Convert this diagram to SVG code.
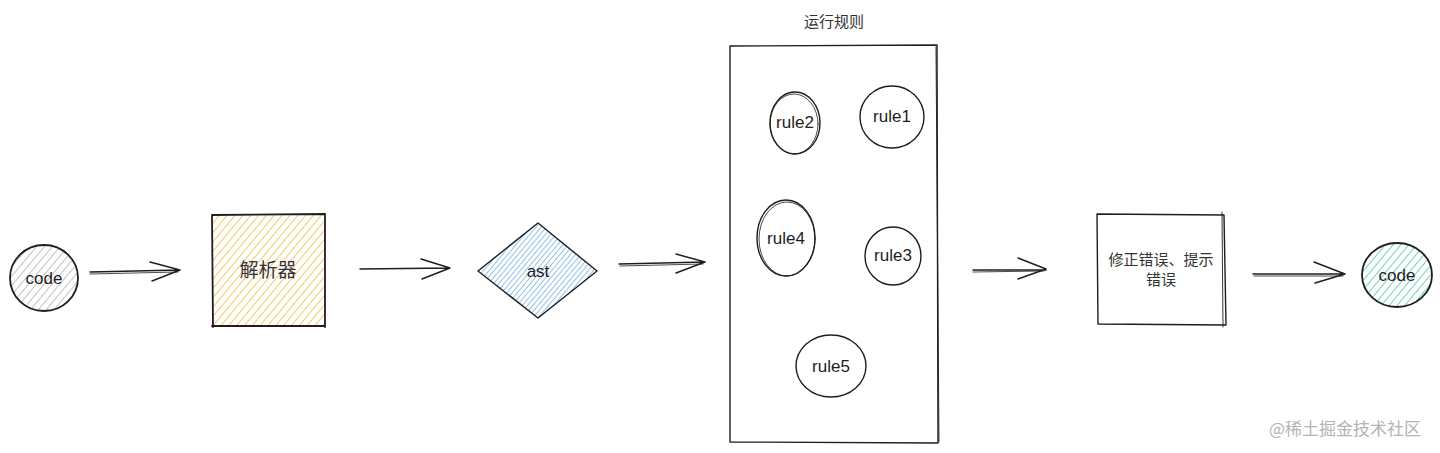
<svg xmlns="http://www.w3.org/2000/svg" width="1440" height="453" viewBox="0 0 1440 453">
<style>
.s{fill:none;stroke:#1e1e1e;stroke-width:1.4;stroke-linecap:round;stroke-linejoin:round}
.h{font-family:"Liberation Sans",sans-serif;fill:#1e1e1e;text-anchor:middle;font-size:17px}
.c{font-family:"Noto Sans CJK SC",sans-serif;fill:#333;text-anchor:middle}
</style>
<defs>
<pattern id="pg" width="6" height="6" patternUnits="userSpaceOnUse" patternTransform="rotate(40)"><line x1="0" y1="0" x2="0" y2="6" stroke="#adb5bd" stroke-width="1.6"/></pattern>
<pattern id="py" width="6" height="6" patternUnits="userSpaceOnUse" patternTransform="rotate(40)"><line x1="0" y1="0" x2="0" y2="6" stroke="#f2c04e" stroke-width="1.7"/></pattern>
<pattern id="pb" width="4" height="4" patternUnits="userSpaceOnUse" patternTransform="rotate(40)"><line x1="0" y1="0" x2="0" y2="4" stroke="#6aaee6" stroke-width="1.5"/></pattern>
<pattern id="pt" width="6" height="6" patternUnits="userSpaceOnUse" patternTransform="rotate(40)"><line x1="0" y1="0" x2="0" y2="6" stroke="#5fd0ab" stroke-width="1.8"/></pattern>
</defs>
<rect width="1440" height="453" fill="#ffffff"/>

<g id="code-in">
<ellipse cx="44" cy="278" rx="34" ry="33" fill="url(#pg)"/>
<ellipse class="s" cx="44" cy="278" rx="34" ry="33" style="stroke-width:1.8"/>
<text class="h" x="44" y="284">code</text>
</g>

<g id="parser">
<rect x="212" y="215" width="113" height="111" fill="url(#py)"/>
<path class="s" d="M212 215 L325 214 M325 214 L325 327 M212 326 L325 326 M212 215 L213 327" style="stroke-width:1.8"/>
<text class="c" x="268" y="277" font-size="19">解析器</text>
</g>

<g id="ast">
<path d="M478 271 L538 223 L597 271 L538 318 Z" fill="url(#pb)"/>
<path class="s" d="M478 271 L538 223 L597 271 L538 318 Z"/>
<text class="h" x="538" y="277">ast</text>
</g>

<g id="rules">
<text class="c" x="834" y="27" font-size="15">运行规则</text>
<path class="s" d="M730 46 L937 45 L938 443 L730 442 Z"/>
<path class="s" d="M936 47 L939 442" style="stroke-width:0.9"/>
</g>

<g id="rule2">
<ellipse class="s" cx="795" cy="123" rx="25" ry="31"/>
<ellipse class="s" cx="794" cy="124" rx="24" ry="30" style="stroke-width:0.8"/>
<text class="h" x="795" y="128" font-size="15">rule2</text>
</g>
<g id="rule1">
<ellipse class="s" cx="892" cy="117" rx="32" ry="31"/>
<text class="h" x="892" y="122" font-size="15">rule1</text>
</g>
<g id="rule4">
<ellipse class="s" cx="786" cy="238" rx="29" ry="38"/>
<ellipse class="s" cx="787" cy="239" rx="28" ry="37" style="stroke-width:0.8"/>
<text class="h" x="786" y="244" font-size="15">rule4</text>
</g>
<g id="rule3">
<ellipse class="s" cx="893" cy="256" rx="28" ry="29"/>
<text class="h" x="893" y="261" font-size="15">rule3</text>
</g>
<g id="rule5">
<ellipse class="s" cx="831" cy="366" rx="35" ry="31"/>
<text class="h" x="831" y="372" font-size="15">rule5</text>
</g>

<g id="fix">
<path class="s" d="M1097 214 L1224 215 L1226 325 L1098 324 Z"/>
<path class="s" d="M1222 212 L1223 327" style="stroke-width:0.9"/>
<text class="c" x="1161" y="265" font-size="15">修正错误、提示</text>
<text class="c" x="1161" y="285" font-size="15">错误</text>
</g>

<g id="code-out">
<ellipse cx="1397" cy="275" rx="35" ry="32" fill="url(#pt)"/>
<ellipse class="s" cx="1397" cy="275" rx="35" ry="32" style="stroke-width:1.8"/>
<text class="h" x="1397" y="281">code</text>
</g>

<g id="connectors" class="s">
<path d="M90 272 L180 270 M150 262 L180 270 L152 281"/>
<path d="M90 274 L178 272" style="stroke-width:0.8"/>
<path d="M360 269 L450 268 M421 259 L450 268 L422 279"/>
<path d="M619 264 L705 262 M676 254 L705 262 L676 273"/>
<path d="M620 266 L703 264" style="stroke-width:0.8"/>
<path d="M973 270 L1046 270 M1018 258 L1046 269 L1018 279"/>
<path d="M973 272 L1044 271" style="stroke-width:0.8"/>
<path d="M1253 274 L1345 274 M1314 262 L1345 274 L1315 283"/>
<path d="M1254 276 L1343 276" style="stroke-width:0.8"/>
</g>

<text class="c" x="1345" y="435" font-size="17" style="fill:#b4b4b4">@稀土掘金技术社区</text>
</svg>
